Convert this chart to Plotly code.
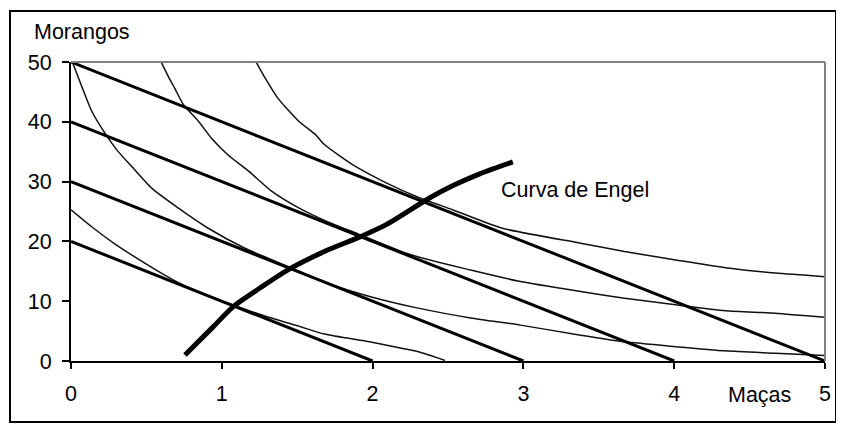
import plotly.graph_objects as go

# Budget lines (Maças, Morangos)
budget_x = [[0, 2], [0, 3], [0, 4], [0, 5]]
budget_y = [[20, 0], [30, 0], [40, 0], [50, 0]]

# Indifference curves
ic1_x = [0.0, 0.15, 0.29, 0.5, 0.69, 0.9, 1.07, 1.3, 1.5, 1.68, 1.98, 2.2, 2.31, 2.48]
ic1_y = [25.3, 22.2, 19.6, 16.2, 13.4, 11.0, 9.4, 7.4, 5.9, 4.5, 3.2, 2.1, 1.5, 0.1]

ic2_x = [0.0, 0.07, 0.137, 0.225, 0.31, 0.40, 0.535, 0.71, 0.91, 1.15, 1.44, 1.70, 1.98, 2.31, 2.65, 2.98, 3.36, 3.67, 4.01, 4.34, 4.67, 5.0]
ic2_y = [50.6, 46.0, 41.8, 38.1, 35.1, 32.6, 28.9, 25.6, 22.2, 18.9, 15.8, 13.0, 10.8, 8.8, 7.2, 6.0, 4.4, 3.2, 2.4, 1.7, 1.3, 0.9]

ic3_x = [0.60, 0.645, 0.69, 0.745, 0.845, 0.93, 1.04, 1.18, 1.33, 1.51, 1.70, 1.90, 2.25, 2.65, 2.98, 3.36, 3.67, 4.01, 4.34, 4.67, 5.0]
ic3_y = [49.9, 47.6, 45.5, 42.9, 40.1, 37.3, 34.5, 31.7, 28.4, 25.6, 23.3, 21.3, 17.8, 15.2, 13.3, 11.7, 10.5, 9.4, 8.4, 8.0, 7.3]

ic4_x = [1.23, 1.29, 1.37, 1.51, 1.62, 1.68, 1.87, 2.09, 2.31, 2.53, 2.86, 3.38, 3.67, 4.01, 4.34, 4.67, 5.0]
ic4_y = [49.9, 47.2, 44.0, 40.1, 37.9, 36.2, 32.8, 29.8, 27.3, 25.3, 22.2, 19.7, 18.3, 16.9, 15.6, 14.7, 14.1]

# Engel curve
engel_x = [0.756, 0.944, 1.076, 1.253, 1.45, 1.68, 1.92, 2.09, 2.38, 2.53, 2.71, 2.93]
engel_y = [1.0, 5.75, 9.1, 12.2, 15.4, 18.3, 20.8, 22.8, 27.3, 29.3, 31.3, 33.3]

x_ticks = [0, 1, 2, 3, 4, 5]
y_ticks = [0, 10, 20, 30, 40, 50]

FONT = "Liberation Sans, Arial, sans-serif"
FS = 21.5

fig = go.Figure()

for xs, ys in [(ic1_x, ic1_y), (ic2_x, ic2_y), (ic3_x, ic3_y), (ic4_x, ic4_y)]:
    fig.add_trace(go.Scatter(x=xs, y=ys, mode="lines",
                             line=dict(color="#111111", width=1.5, shape="spline", smoothing=0.6),
                             hoverinfo="skip", showlegend=False))

for xs, ys in zip(budget_x, budget_y):
    fig.add_trace(go.Scatter(x=xs, y=ys, mode="lines",
                             line=dict(color="black", width=3),
                             hoverinfo="skip", showlegend=False))

fig.add_trace(go.Scatter(x=engel_x, y=engel_y, mode="lines",
                         line=dict(color="black", width=5, shape="spline", smoothing=0.8),
                         hoverinfo="skip", showlegend=False))

fig.update_layout(
    width=836, height=421,
    margin=dict(l=63, r=19, t=54, b=68),
    paper_bgcolor="white", plot_bgcolor="white",
    font=dict(family=FONT, size=FS, color="black"),
    showlegend=False,
    xaxis=dict(range=[0, 5], tickvals=x_ticks, ticktext=[str(v) for v in x_ticks],
               showgrid=False, zeroline=False, showline=True, linecolor="black", linewidth=2,
               ticks="outside", ticklen=6, tickwidth=1.5, tickcolor="black",
               ticklabelstandoff=6, automargin=False, fixedrange=True),
    yaxis=dict(range=[0, 50], tickvals=y_ticks, ticktext=[str(v) for v in y_ticks],
               showgrid=False, zeroline=False, showline=True, linecolor="black", linewidth=2,
               ticks="outside", ticklen=7, tickwidth=1.5, tickcolor="black",
               ticklabelstandoff=6, automargin=False, fixedrange=True),
    shapes=[
        dict(type="line", xref="paper", yref="paper", x0=0, x1=1, y0=1, y1=1,
             line=dict(color="#808080", width=2)),
        dict(type="line", xref="paper", yref="paper", x0=1, x1=1, y0=0, y1=1,
             line=dict(color="#808080", width=2)),
        dict(type="rect", xref="paper", yref="paper", x0=-0.0809, x1=1.0146, y0=-0.2044, y1=1.1709,
             line=dict(color="black", width=2), fillcolor="rgba(0,0,0,0)", layer="below"),
    ],
    annotations=[
        dict(text="Morangos", xref="paper", yref="paper", x=-0.052, y=1.102,
             xanchor="left", yanchor="middle", showarrow=False, font=dict(size=FS)),
        dict(text="Maças", xref="paper", yref="paper", x=0.913, y=-0.1139,
             xanchor="center", yanchor="middle", showarrow=False, font=dict(size=FS)),
        dict(text="Curva de Engel", xref="x", yref="y", x=2.84, y=28.6,
             xanchor="left", yanchor="middle", showarrow=False, font=dict(size=FS)),
    ],
)

fig.write_html("out.html")
